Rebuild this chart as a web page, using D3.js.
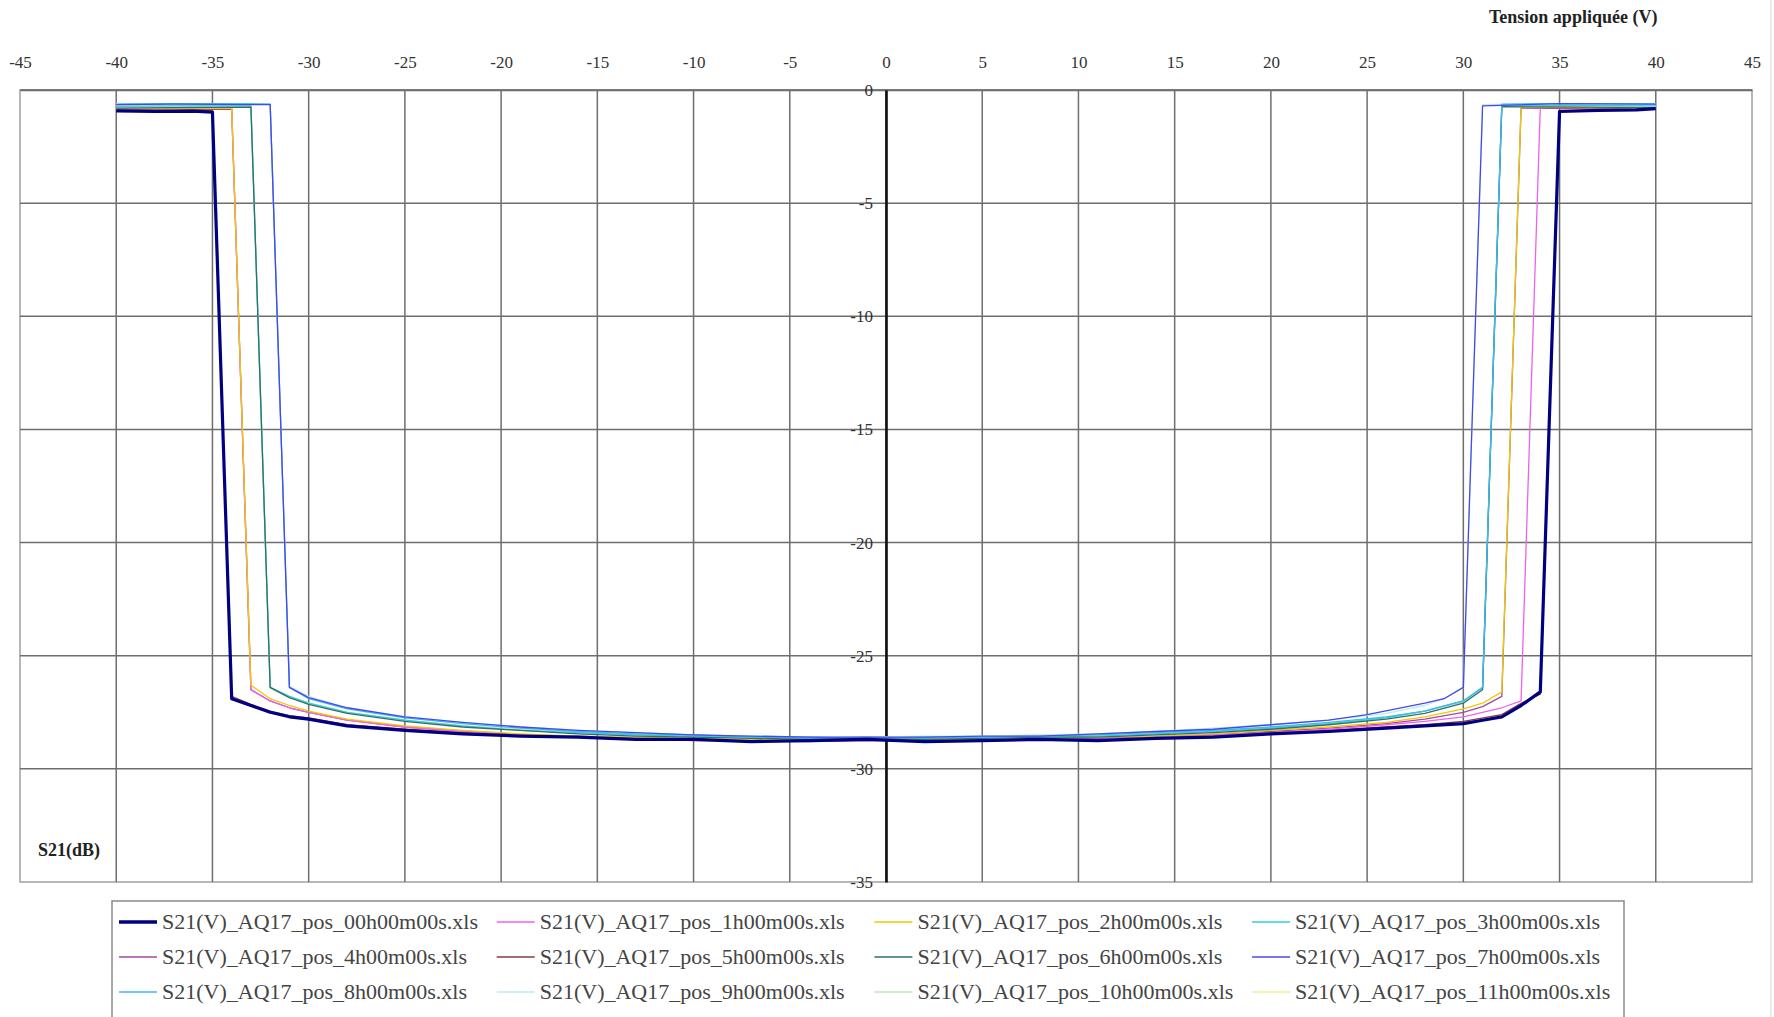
<!DOCTYPE html>
<html>
<head>
<meta charset="utf-8">
<script src="https://cdn.jsdelivr.net/npm/d3@7"></script>
<style>
  html, body { margin: 0; padding: 0; background: #fff; }
  svg { display: block; }
  text { font-family: "Liberation Serif", "Times New Roman", serif; }
</style>
</head>
<body>
<svg id="chart" width="1774" height="1017"></svg>
<script>
// Tick values of both axes
const xTicks = [-45, -40, -35, -30, -25, -20, -15, -10, -5, 0, 5, 10, 15, 20, 25, 30, 35, 40, 45];
const yTicks = [0, -5, -10, -15, -20, -25, -30, -35];

const xTitle = "Tension appliquée (V)";
const yTitle = "S21(dB)";

// Series names (one measurement file per hour)
const seriesNames = [
  "S21(V)_AQ17_pos_00h00m00s.xls", "S21(V)_AQ17_pos_1h00m00s.xls", "S21(V)_AQ17_pos_2h00m00s.xls", "S21(V)_AQ17_pos_3h00m00s.xls",
  "S21(V)_AQ17_pos_4h00m00s.xls", "S21(V)_AQ17_pos_5h00m00s.xls", "S21(V)_AQ17_pos_6h00m00s.xls", "S21(V)_AQ17_pos_7h00m00s.xls",
  "S21(V)_AQ17_pos_8h00m00s.xls", "S21(V)_AQ17_pos_9h00m00s.xls", "S21(V)_AQ17_pos_10h00m00s.xls", "S21(V)_AQ17_pos_11h00m00s.xls"
];

// S21 (dB) versus applied voltage (V), pairs [V, dB]
const s00h = [[-40,-0.92],[-38,-0.95],[-36,-0.93],[-35,-0.98],[-34,-26.9],[-33,-27.2],[-32,-27.5],[-31,-27.7],[-30,-27.8],[-28,-28.1],[-25,-28.3],[-22,-28.45],[-19,-28.55],[-16,-28.6],[-13,-28.7],[-10,-28.7],[-7,-28.8],[-4,-28.75],[-1,-28.7],[2,-28.8],[5,-28.75],[8,-28.7],[11,-28.75],[14,-28.65],[17,-28.6],[20,-28.45],[23,-28.35],[26,-28.2],[28,-28.1],[30,-28.0],[31,-27.85],[32,-27.7],[33,-27.2],[34,-26.6],[35,-0.95],[37,-0.9],[39,-0.88],[40,-0.82]];
const s01h = [[-40,-0.82],[-37,-0.8],[-34,-0.78],[-33,-26.5],[-32,-27.0],[-31,-27.3],[-30,-27.5],[-28,-27.85],[-25,-28.15],[-22,-28.35],[-19,-28.5],[-16,-28.55],[-13,-28.65],[-10,-28.7],[-7,-28.75],[-4,-28.7],[-1,-28.75],[2,-28.7],[5,-28.75],[8,-28.7],[11,-28.7],[14,-28.6],[17,-28.5],[20,-28.4],[23,-28.25],[26,-28.05],[28,-27.9],[30,-27.7],[32,-27.3],[33,-27.0],[34,-0.75],[37,-0.78],[40,-0.8]];
const s02h = [[-40,-0.8],[-37,-0.82],[-34,-0.8],[-33,-26.3],[-32,-26.9],[-31,-27.2],[-30,-27.45],[-28,-27.8],[-25,-28.1],[-22,-28.3],[-19,-28.45],[-16,-28.55],[-13,-28.6],[-10,-28.65],[-7,-28.7],[-4,-28.7],[-1,-28.7],[2,-28.7],[5,-28.7],[8,-28.65],[11,-28.6],[14,-28.55],[17,-28.45],[20,-28.3],[23,-28.15],[26,-27.95],[28,-27.7],[30,-27.35],[31,-27.1],[32,-26.6],[33,-0.75],[36,-0.78],[40,-0.8]];
const s03h = [[-40,-0.72],[-37,-0.7],[-33,-0.7],[-32,-26.4],[-31,-26.8],[-30,-27.1],[-28,-27.5],[-25,-27.85],[-22,-28.1],[-19,-28.3],[-16,-28.4],[-13,-28.5],[-10,-28.55],[-7,-28.6],[-4,-28.65],[-1,-28.6],[2,-28.65],[5,-28.6],[8,-28.6],[11,-28.55],[14,-28.45],[17,-28.35],[20,-28.2],[23,-28.0],[26,-27.75],[28,-27.45],[30,-27.0],[31,-26.4],[32,-0.7],[36,-0.68],[40,-0.7]];
const s04h = [[-40,-0.86],[-37,-0.85],[-34,-0.84],[-33,-26.5],[-32,-27.0],[-31,-27.3],[-30,-27.5],[-28,-27.85],[-25,-28.15],[-22,-28.35],[-19,-28.5],[-16,-28.6],[-13,-28.65],[-10,-28.75],[-7,-28.75],[-4,-28.8],[-1,-28.75],[2,-28.75],[5,-28.7],[8,-28.7],[11,-28.65],[14,-28.6],[17,-28.5],[20,-28.35],[23,-28.2],[26,-28.0],[28,-27.8],[30,-27.5],[31,-27.25],[32,-26.8],[33,-0.8],[36,-0.82],[40,-0.85]];
const s05h = [[-40,-0.93],[-37,-0.94],[-35,-0.92],[-34,-26.8],[-33,-27.15],[-32,-27.45],[-31,-27.65],[-30,-27.75],[-28,-28.05],[-25,-28.25],[-22,-28.4],[-19,-28.5],[-16,-28.6],[-13,-28.65],[-10,-28.7],[-7,-28.75],[-4,-28.75],[-1,-28.7],[2,-28.75],[5,-28.75],[8,-28.7],[11,-28.65],[14,-28.6],[17,-28.5],[20,-28.4],[23,-28.3],[26,-28.15],[28,-28.05],[30,-27.9],[32,-27.6],[33,-27.1],[34,-26.7],[35,-0.9],[37,-0.9],[40,-0.86]];
const s06h = [[-40,-0.8],[-37,-0.78],[-33,-0.76],[-32,-26.4],[-31,-26.85],[-30,-27.15],[-28,-27.55],[-25,-27.9],[-22,-28.15],[-19,-28.3],[-16,-28.45],[-13,-28.55],[-10,-28.6],[-7,-28.65],[-4,-28.7],[-1,-28.65],[2,-28.7],[5,-28.65],[8,-28.6],[11,-28.6],[14,-28.5],[17,-28.4],[20,-28.25],[23,-28.05],[26,-27.8],[28,-27.55],[30,-27.1],[31,-26.5],[32,-0.74],[36,-0.76],[40,-0.78]];
const s07h = [[-40,-0.65],[-37,-0.62],[-32,-0.65],[-31,-26.4],[-30,-26.85],[-28,-27.3],[-25,-27.7],[-22,-27.95],[-19,-28.15],[-16,-28.3],[-13,-28.4],[-10,-28.5],[-7,-28.55],[-4,-28.6],[-1,-28.6],[2,-28.6],[5,-28.55],[8,-28.55],[11,-28.45],[14,-28.35],[17,-28.25],[20,-28.05],[23,-27.85],[25,-27.6],[28,-27.1],[29,-26.9],[30,-26.4],[31,-0.7],[35,-0.6],[40,-0.62]];
const s08h = [[-40,-0.62],[-37,-0.6],[-32,-0.62],[-31,-26.4],[-30,-26.9],[-28,-27.35],[-25,-27.75],[-22,-28.0],[-19,-28.2],[-16,-28.35],[-13,-28.45],[-10,-28.5],[-7,-28.6],[-4,-28.6],[-1,-28.65],[2,-28.6],[5,-28.6],[8,-28.55],[11,-28.5],[14,-28.4],[17,-28.3],[20,-28.15],[23,-27.95],[26,-27.7],[28,-27.45],[30,-27.0],[31,-26.4],[32,-0.62],[36,-0.6],[40,-0.62]];
const s09h = [[-40,-0.6],[-36,-0.6],[-32,-0.6],[-31,-26.35],[-30,-26.8],[-28,-27.3],[-25,-27.7],[-22,-27.95],[-19,-28.15],[-16,-28.3],[-13,-28.4],[-10,-28.5],[-7,-28.55],[-4,-28.6],[-1,-28.6],[2,-28.55],[5,-28.55],[8,-28.5],[11,-28.45],[14,-28.35],[17,-28.2],[20,-28.05],[23,-27.85],[26,-27.55],[28,-27.2],[29,-26.9],[30,-26.4],[31,-0.65],[35,-0.6],[40,-0.6]];
const s10h = [[-40,-0.7],[-37,-0.7],[-33,-0.68],[-32,-26.45],[-31,-26.85],[-30,-27.1],[-28,-27.5],[-25,-27.85],[-22,-28.1],[-19,-28.25],[-16,-28.4],[-13,-28.5],[-10,-28.55],[-7,-28.6],[-4,-28.6],[-1,-28.65],[2,-28.6],[5,-28.6],[8,-28.55],[11,-28.5],[14,-28.45],[17,-28.3],[20,-28.2],[23,-28.0],[26,-27.7],[28,-27.45],[30,-27.05],[31,-26.45],[32,-0.7],[36,-0.7],[40,-0.72]];
const s11h = [[-40,-0.72],[-37,-0.74],[-33,-0.72],[-32,-26.4],[-31,-26.8],[-30,-27.1],[-28,-27.5],[-25,-27.85],[-22,-28.1],[-19,-28.3],[-16,-28.4],[-13,-28.5],[-10,-28.55],[-7,-28.6],[-4,-28.65],[-1,-28.6],[2,-28.6],[5,-28.6],[8,-28.55],[11,-28.5],[14,-28.45],[17,-28.35],[20,-28.2],[23,-28.0],[26,-27.75],[28,-27.45],[30,-27.0],[31,-26.4],[32,-0.72],[36,-0.72],[40,-0.74]];

const seriesValues = [s00h, s01h, s02h, s03h, s04h, s05h, s06h, s07h, s08h, s09h, s10h, s11h];

// Line styles, one per series
const seriesColors = ["#000080", "#f060f0", "#f0c800", "#30d0e0", "#a04aa0", "#8a3a3a", "#2f7070", "#4848e8",
                      "#40b8f0", "#b8eef0", "#b8eab8", "#f2ee90"];
const seriesWidths = [3.2, 1.3, 1.3, 1.3, 1.3, 1.3, 1.3, 1.3, 1.3, 1.3, 1.3, 1.3];
// Pale series first, the thick reference curve last
const drawOrder = [9, 10, 11, 5, 4, 1, 2, 3, 6, 8, 7, 0];

const svg = d3.select("#chart");
const plotLeft = 20, plotRight = 1752, plotTop = 90, plotBottom = 882;

const x = d3.scaleLinear().domain([-45, 45]).range([plotLeft, plotRight]);
const y = d3.scaleLinear().domain([-35, 0]).range([plotBottom, plotTop]);
const fmt = d => String(d);

// Light frame of the chart area
svg.append("line").attr("x1", 1771).attr("x2", 1771).attr("y1", 0).attr("y2", 1017)
  .attr("stroke", "#e4e4e4").attr("stroke-width", 1.5);

// Plot area border
svg.append("rect").attr("x", plotLeft).attr("y", plotTop)
  .attr("width", plotRight - plotLeft).attr("height", plotBottom - plotTop)
  .attr("fill", "#fff").attr("stroke", "#a0a0a0").attr("stroke-width", 1.5);

// Grid
const grid = svg.append("g");
grid.selectAll("line.v").data(xTicks.filter(d => d !== -45 && d !== 45)).join("line")
  .attr("class", "v")
  .attr("x1", d => x(d)).attr("x2", d => x(d))
  .attr("y1", plotTop).attr("y2", plotBottom)
  .attr("stroke", "#6e6e6e").attr("stroke-width", 1.5);
grid.selectAll("line.h").data(yTicks.filter(d => d !== -35)).join("line")
  .attr("class", "h")
  .attr("x1", plotLeft).attr("x2", plotRight)
  .attr("y1", d => y(d)).attr("y2", d => y(d))
  .attr("stroke", "#6e6e6e").attr("stroke-width", 1.5);

// X axis along the top edge (0 dB)
const xAxis = svg.append("g").attr("transform", `translate(0,${y(0)})`)
  .call(d3.axisTop(x).tickValues(xTicks).tickSize(0).tickPadding(22).tickFormat(fmt));
xAxis.select(".domain").attr("stroke", "#6e6e6e").attr("stroke-width", 1.5);
xAxis.selectAll("text").attr("font-size", 17).attr("fill", "#333")
  .attr("font-family", "Liberation Serif, serif");

// Y axis through 0 V
const yAxis = svg.append("g").attr("transform", `translate(${x(0)},0)`)
  .call(d3.axisLeft(y).tickValues(yTicks).tickSize(0).tickPadding(13).tickFormat(fmt));
yAxis.select(".domain").attr("stroke", "#111").attr("stroke-width", 2.6);
yAxis.selectAll("text").attr("font-size", 17).attr("fill", "#333")
  .attr("font-family", "Liberation Serif, serif");

// Curves
const line = d3.line().x(d => x(d[0])).y(d => y(d[1]));
svg.append("g").selectAll("path").data(drawOrder).join("path")
  .attr("d", i => line(seriesValues[i]))
  .attr("fill", "none")
  .attr("stroke", i => seriesColors[i])
  .attr("stroke-width", i => seriesWidths[i])
  .attr("stroke-linejoin", "round");

// Axis titles
svg.append("text").attr("x", 1489).attr("y", 23)
  .attr("font-size", 18).attr("font-weight", "bold").attr("fill", "#222")
  .text(xTitle);
svg.append("text").attr("x", 38).attr("y", 856)
  .attr("font-size", 18).attr("font-weight", "bold").attr("fill", "#222")
  .text(yTitle);

// Legend: 4 columns, row-major order
const legendCols = 4;
const legend = svg.append("g");
legend.append("rect").attr("x", 112).attr("y", 901).attr("width", 1512).attr("height", 170)
  .attr("fill", "#fff").attr("stroke", "#8a8a8a").attr("stroke-width", 1.5);
const items = legend.selectAll("g.item").data(seriesNames).join("g")
  .attr("class", "item")
  .attr("transform", (d, i) => `translate(${162 + (i % legendCols) * 377.7},${922 + Math.floor(i / legendCols) * 35})`);
items.append("line").attr("x1", -43).attr("x2", -5).attr("y1", 0).attr("y2", 0)
  .attr("stroke", (d, i) => seriesColors[i])
  .attr("stroke-width", (d, i) => seriesWidths[i] > 2 ? 3.5 : 1.5);
items.append("text").attr("x", 0).attr("dy", "0.33em")
  .attr("font-size", 22).attr("fill", "#444")
  .text(d => d);
</script>
</body>
</html>
